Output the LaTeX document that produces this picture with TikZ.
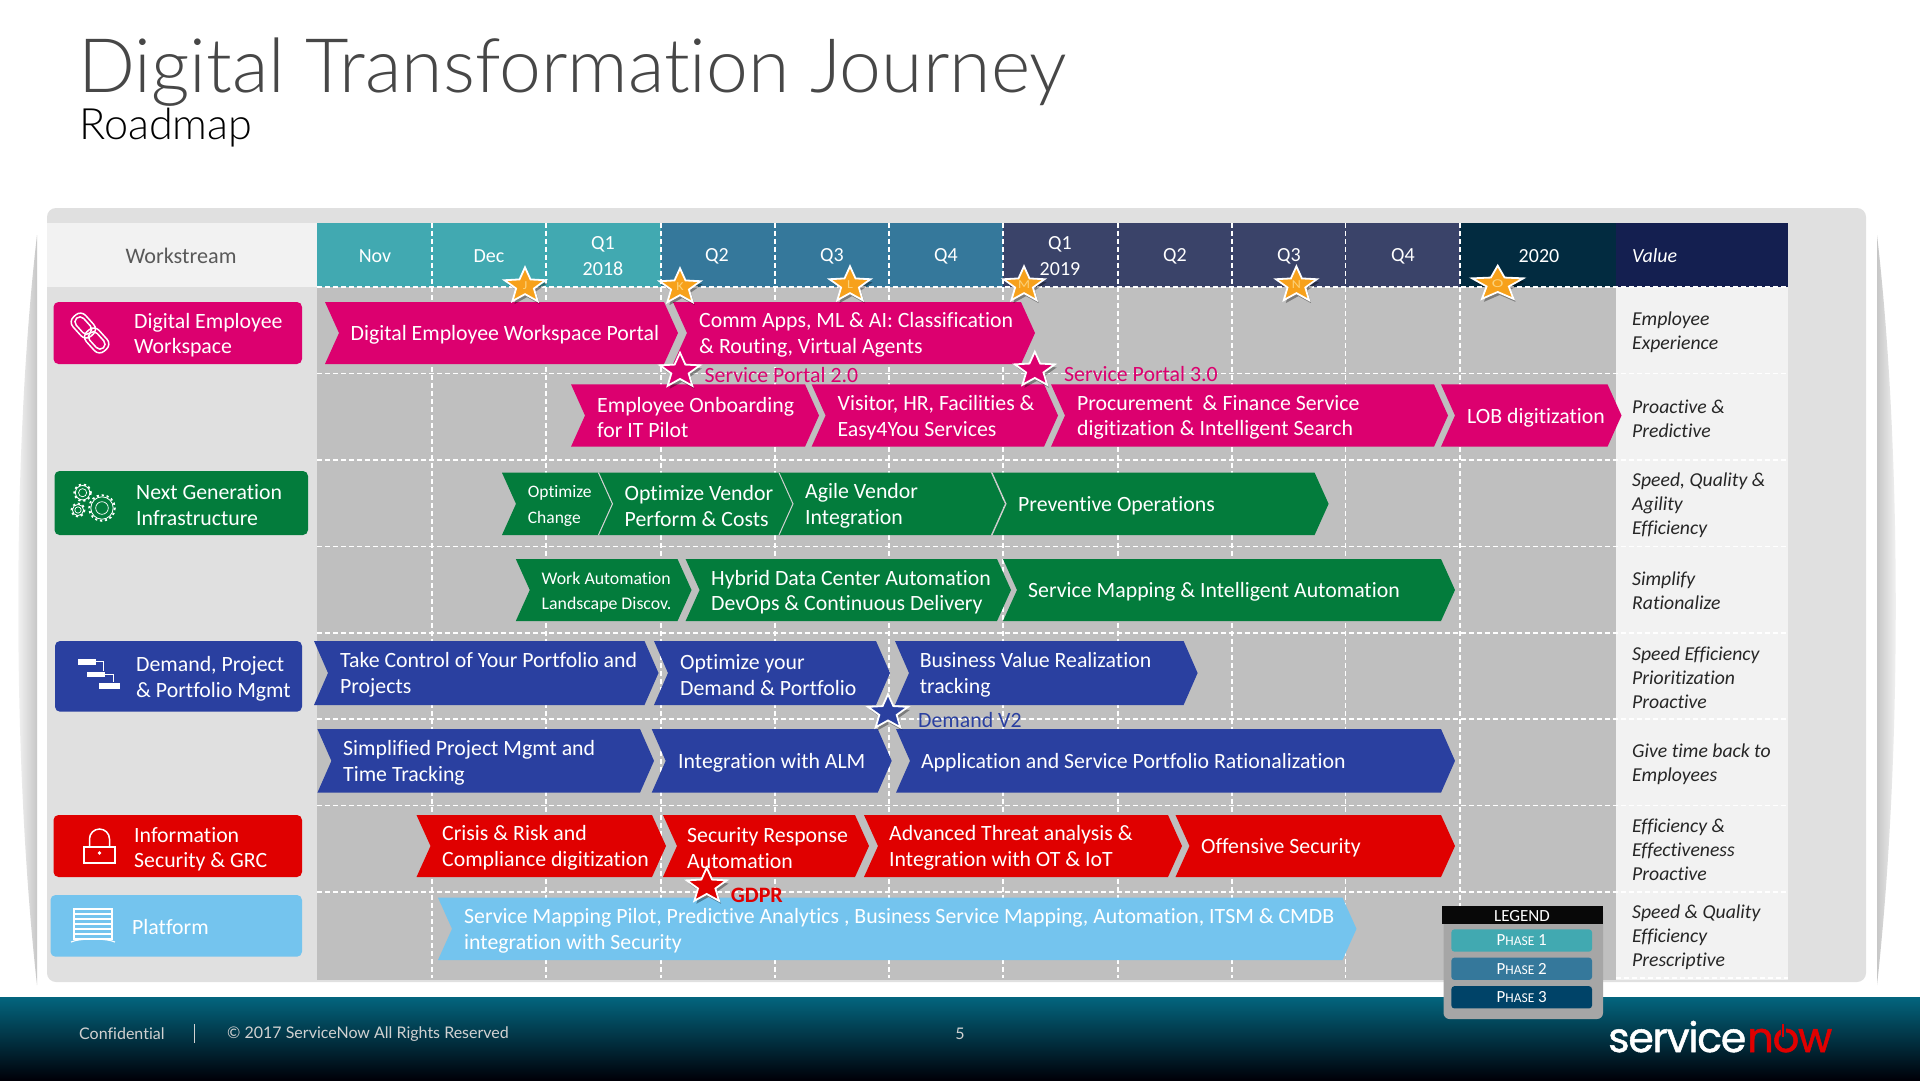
\documentclass[tikz,border=0pt]{standalone}
\usepackage{fontspec}
\usepackage{graphicx}
\usetikzlibrary{shapes.geometric,shadows}
\setmainfont{Carlito}[Ligatures=NoCommon]
\newfontfamily\titlefont{Lato Light}[Ligatures=NoCommon]
\newfontfamily\footfont{Lato}[Ligatures=NoCommon]
\newfontfamily\logofont{Poppins}[LetterSpace=-3,FakeBold=1.2]
\definecolor{pnl}{HTML}{E0E0E0}
\definecolor{grd}{HTML}{BFBFBF}
\definecolor{lite}{HTML}{F2F2F2}
\definecolor{ph1}{HTML}{41A9B1}
\definecolor{ph2}{HTML}{35789B}
\definecolor{ph3}{HTML}{3A4369}
\definecolor{ph4}{HTML}{022B40}
\definecolor{ph5}{HTML}{004368}
\definecolor{navy}{HTML}{141F50}
\definecolor{pink}{HTML}{DC006F}
\definecolor{grn}{HTML}{037C3C}
\definecolor{blu}{HTML}{2A40A0}
\definecolor{rd}{HTML}{E00000}
\definecolor{sky}{HTML}{74C4EE}
\definecolor{orng}{HTML}{F7A11B}
\definecolor{ltr}{HTML}{FCD27A}
\definecolor{ft1}{HTML}{03657E}
\definecolor{ft2}{HTML}{023C55}
\definecolor{ft3}{HTML}{000008}
\tikzset{
  fs/.style={font=\fontsize{#1}{25.5}\selectfont},
  hdr/.style={text=white,inner sep=0pt,align=center,fs=20},
  chevtxt/.style={text=white,anchor=west,inner sep=0pt,align=left,fs=21.8},
  wslabel/.style={text=white,anchor=west,inner sep=0pt,align=left,fs=21.8},
  valtxt/.style={text=black!85,anchor=west,inner sep=0pt,align=left,font=\fontsize{19.7}{24}\selectfont\itshape},
  griddash/.style={white,line width=1.5pt,dash pattern=on 5pt off 3pt},
  wsbox/.style={rounded corners=5pt},
  starbase/.style={star,star points=5,star point ratio=2.3,draw=white,line width=1.8pt,inner sep=0pt,minimum size=#1,yscale=.87,transform shape,drop shadow={shadow xshift=2pt,shadow yshift=-3pt,opacity=.35,fill=black}},
  mile/.style={starbase=43pt,fill=orng,text=ltr,font=\fontsize{14}{14}\selectfont},
  icon/.style={white,line width=1.5pt},
  phasebox/.style={rounded corners=3pt,minimum width=140.6pt,minimum height=22.3pt,inner sep=0pt,text=white,font=\fontsize{17}{17}\selectfont},
  seam/.style={grd!70!white,line width=1pt},
}
\newcommand{\pcaps}[1]{P{\fontsize{13.5}{13.5}\selectfont HASE} #1}
\newcommand{\chev}[9][21.8]{%
  \fill[#3] ({#4},{#6}) -- ({#5-14},{#6}) -- ({#5},{(#6+#7)/2}) -- ({#5-14},{#7}) -- ({#4},{#7}) -- ({#4+14},{(#6+#7)/2}) -- cycle;
  \node[chevtxt,fs=#1] (#2) at ({#8},{(#6+#7)/2+2}) {#9};
}
\newcommand{\seamline}[3]{\draw[seam] ({#1},{#2}) -- ({#1+14},{(#2+#3)/2}) -- ({#1},{#3});}
\newcommand{\gearicon}[3]{%
  \draw[icon,line width=.7pt] (#1,#2) circle ({#3*0.45});
  \draw[icon,line width=.8pt] (#1,#2) circle ({#3*0.8});
  \draw[white,line width=1.8pt,dash pattern=on 2.2pt off 2.8pt] (#1,#2) circle ({#3*0.92});
}
\begin{document}
\begin{tikzpicture}[x=1pt,y=-1pt]
\useasboundingbox (0,0) rectangle (1920,1080);
\fill[white] (0,0) rectangle (1920,1080);
% title
\node[anchor=base west,inner sep=0pt,text=black!72,font=\fontsize{75.1}{80}\selectfont\titlefont] (title) at (78,92) {Digital Transformation Journey};
\node[anchor=base west,inner sep=0pt,text=black,font=\fontsize{43.2}{44}\selectfont\titlefont] (subtitle) at (79,139) {Roadmap};
% side shadows
\shade[left color=white,right color=black!22] (37,235) .. controls (12,450) and (12,760) .. (37,985) -- cycle;
\shade[left color=black!22,right color=white] (1877,235) .. controls (1902,450) and (1902,760) .. (1877,985) -- cycle;
% panel
\fill[pnl,rounded corners=9pt] (47,208) rectangle (1866,982);
\fill[lite] (47,222.7) rectangle (317,287);
\node[text=black!65,inner sep=0pt,fs=22.2] (ws) at (181,256) {Workstream};
\fill[grd] (317,287) rectangle (1616,980);
\fill[lite] (1616,287) rectangle (1788,980);
% header
\fill[ph1] (317,222.7) rectangle (661,287);
\fill[ph2] (661,222.7) rectangle (1003,287);
\fill[ph3] (1003,222.7) rectangle (1460,287);
\fill[ph4] (1460,222.7) rectangle (1616,287);
\fill[navy] (1616,222.7) rectangle (1788,287);
\node[hdr] (h1) at (375,256) {Nov};
\node[hdr] (h2) at (489,256) {Dec};
\node[hdr] (h3) at (603,256) {Q1\\2018};
\node[hdr] (h4) at (717,256) {Q2};
\node[hdr] (h5) at (832,256) {Q3};
\node[hdr] (h6) at (946,256) {Q4};
\node[hdr] (h7) at (1060,256) {Q1\\2019};
\node[hdr] (h8) at (1175,256) {Q2};
\node[hdr] (h9) at (1289,256) {Q3};
\node[hdr] (h10) at (1403,256) {Q4};
\node[hdr] (h11) at (1539,256) {2020};
\node[text=white,anchor=west,inner sep=0pt,font=\fontsize{20}{24}\selectfont\itshape] (val) at (1632,256) {Value};
% dashed grid
\foreach \gx in {432,546,661,775,889,1003,1118,1232,1345.5,1460}{\draw[griddash] (\gx,222.7) -- (\gx,978);}
\foreach \gy in {287,373.7,460,546.7,633,719,805.7,892}{\draw[griddash] (317,\gy) -- (1788,\gy);}
\draw[griddash] (1616,978) -- (1788,978);
% value column
\node[valtxt] (v1) at (1632,332.5) {Employee\\Experience};
\node[valtxt] (v2) at (1632,418.5) {Proactive \&\\Predictive};
\node[valtxt] (v3) at (1632,505) {Speed, Quality \&\\Agility\\Efficiency};
\node[valtxt] (v4) at (1632,591) {Simplify\\Rationalize};
\node[valtxt] (v5) at (1632,677.5) {Speed Efficiency\\Prioritization\\Proactive};
\node[valtxt] (v6) at (1632,764) {Give time back to\\Employees};
\node[valtxt] (v7) at (1632,850) {Efficiency \&\\Effectiveness\\Proactive};
\node[valtxt] (v8) at (1632,937) {Speed \& Quality\\Efficiency\\Prescriptive};
% workstream boxes
\fill[pink,wsbox] (53.5,302) rectangle (302,364);
\node[wslabel] (w1) at (134,335) {Digital Employee\\Workspace};
\fill[grn,wsbox] (54.5,471) rectangle (308,535);
\node[wslabel] (w2) at (136,505) {Next Generation\\Infrastructure};
\fill[blu,wsbox] (55,641) rectangle (302,711.7);
\node[wslabel] (w3) at (136,679) {Demand, Project\\\& Portfolio Mgmt};
\fill[rd,wsbox] (53.5,815) rectangle (302,877);
\node[wslabel] (w4) at (134,849) {Information\\Security \& GRC};
\fill[sky,wsbox] (50.5,895) rectangle (302,956.7);
\node[wslabel] (w5) at (132,927) {Platform};
% icons: chain
\begin{scope}[shift={(90,333)},rotate=-48]
\draw[icon,rounded corners=7pt] (-23,-8.5) rectangle (3,8.5);
\draw[icon,rounded corners=5pt] (-20,-5) rectangle (0,5);
\draw[icon,rounded corners=7pt] (-3,-8.5) rectangle (23,8.5);
\draw[icon,rounded corners=5pt] (0,-5) rectangle (20,5);
\end{scope}
% icons: gears
\gearicon{82.6}{492.7}{9}
\gearicon{78}{510}{7}
\gearicon{102}{508}{14}
% icons: gantt
\fill[white] (78,659) rectangle (96,665);
\fill[white] (87,672) rectangle (105,677);
\fill[white] (99,683) rectangle (120,689);
\draw[white,line width=1pt] (96,661) -- (103.5,661) -- (103.5,671);
\draw[white,line width=1pt] (105,674) -- (113,674) -- (113,682);
% icons: lock
\draw[icon] (84,847) rectangle (115,863);
\draw[icon] (89.5,847) -- (89.5,839) arc[start angle=180,end angle=360,radius=10] -- (109.5,847);
\fill[white] (99.5,853) circle (1.8);
% icons: platform
\draw[icon,line width=1.1pt] (74,909) rectangle (112,939);
\foreach \ly in {914,919,924,929,934}{\draw[icon,line width=1.1pt] (74,\ly) -- (112,\ly);}
\draw[icon,line width=1.1pt] (71,942) .. controls (80,938) and (106,938) .. (115,942);
% row 1
\chev{c11}{pink}{325}{678}{302}{364}{350.5}{Digital Employee Workspace Portal}
\chev{c12}{pink}{673}{1035}{302}{364}{699}{Comm Apps, ML \& AI: Classification\\\& Routing, Virtual Agents}
% row 2
\chev{c21}{pink}{571}{819}{384.3}{446.7}{597}{Employee Onboarding\\for IT Pilot}
\chev{c22}{pink}{811.6}{1058}{384.3}{446.7}{837.5}{Visitor, HR, Facilities \&\\Easy4You Services}
\chev{c23}{pink}{1051}{1448}{384.3}{446.7}{1077}{Procurement\ \ \& Finance Service\\digitization \& Intelligent Search}
\chev{c24}{pink}{1441}{1621.5}{384.3}{446.7}{1467}{LOB digitization}
% row 3
\chev[17.5]{c31}{grn}{502}{612}{472.7}{535}{527.7}{Optimize\\Change}
\chev{c32}{grn}{598.5}{794.8}{472.7}{535}{624.5}{Optimize Vendor\\Perform \& Costs}
\chev{c33}{grn}{779}{1004.8}{472.7}{535}{805}{Agile Vendor\\Integration}
\chev{c34}{grn}{992}{1328.6}{472.7}{535}{1018}{Preventive Operations}
\seamline{598.5}{472.7}{535}
\seamline{779}{472.7}{535}
\seamline{992}{472.7}{535}
% row 4
\chev[17.8]{c41}{grn}{515.8}{691.5}{559}{621}{541.5}{Work Automation\\Landscape Discov.}
\chev{c42}{grn}{685.6}{1011}{559}{621}{711}{Hybrid Data Center Automation\\DevOps \& Continuous Delivery}
\chev{c43}{grn}{1003}{1455}{559}{621}{1028}{Service Mapping \& Intelligent Automation}
% row 5
\chev{c51}{blu}{314}{658.5}{641}{705}{340}{Take Control of Your Portfolio and\\Projects}
\chev{c52}{blu}{654}{890}{641}{705}{680}{Optimize your\\Demand \& Portfolio}
\chev{c53}{blu}{895}{1197.6}{641}{705}{919.6}{Business Value Realization\\tracking}
% row 6
\chev{c61}{blu}{317.4}{654}{729}{792.7}{343}{Simplified Project Mgmt and\\Time Tracking}
\chev{c62}{blu}{651.7}{891.7}{729}{792.7}{678}{Integration with ALM}
\chev{c63}{blu}{896}{1455}{729}{792.7}{920.8}{Application and Service Portfolio Rationalization}
% row 7
\chev{c71}{rd}{416.5}{666}{815}{877}{442}{Crisis \& Risk and\\Compliance digitization}
\chev{c72}{rd}{663}{869}{815}{877}{687}{Security Response\\Automation}
\chev{c73}{rd}{864}{1182}{815}{877}{889}{Advanced Threat analysis \&\\Integration with OT \& IoT}
\chev{c74}{rd}{1175.5}{1455}{815}{877}{1201}{Offensive Security}
% row 8
\chev{c81}{sky}{438}{1356.5}{897.7}{960}{464}{Service Mapping Pilot, Predictive Analytics , Business Service Mapping, Automation, ITSM \& CMDB\\integration with Security}
% milestone stars
\node[mile] (sj) at (525,286) {J};
\node[mile] (sk) at (680,287) {K};
\node[mile] (sl) at (850,285) {L};
\node[mile] (sm) at (1024,285) {M};
\node[mile] (sn) at (1296.4,285) {N};
\node[mile,xscale=1.25,yscale=.98] (so) at (1497.7,284) {O};
\node[starbase=42pt,fill=pink] (sp2) at (680,371) {};
\node[starbase=42pt,fill=pink] (sp3) at (1034.8,370) {};
\node[starbase=42pt,fill=blu] (sd2) at (888,712.5) {};
\node[starbase=42pt,fill=rd] (sgd) at (706.7,886) {};
\node[text=pink,anchor=west,inner sep=0pt,fs=21.8] (lsp2) at (704.5,375) {Service Portal 2.0};
\node[text=pink,anchor=west,inner sep=0pt,fs=21.8] (lsp3) at (1064,374) {Service Portal 3.0};
\node[text=blu,anchor=west,inner sep=0pt,fs=21.8] (ldv) at (918,720) {Demand V2};
\node[text=rd,anchor=west,inner sep=0pt,font=\fontsize{22}{24}\selectfont\bfseries] (lgd) at (730.7,895) {GDPR};
% footer
\shade[top color=ft1,middle color=ft2,bottom color=ft3] (0,997.3) rectangle (1920,1080);
\node[text=black!18,anchor=west,inner sep=0pt,font=\fontsize{16}{18}\selectfont\footfont] (f1) at (79,1034) {Confidential};
\node[text=black!18,anchor=west,inner sep=0pt,font=\fontsize{16}{18}\selectfont\footfont] (f2) at (227,1034) {© 2017 ServiceNow All Rights Reserved};
\node[text=black!18,inner sep=0pt,font=\fontsize{16}{18}\selectfont\footfont] (f3) at (960,1034) {5};
\coordinate (dv1) at (194.6,1024);
\coordinate (dv2) at (194.6,1043);
\draw[black!18,line width=1pt] (dv1) -- (dv2);
% logo
\node[anchor=base west,inner sep=0pt,font=\logofont] (logo1) at (1608,1052) {\resizebox{138pt}{!}{\textcolor{white}{service}}};
\node[anchor=base west,inner sep=0pt,font=\logofont] (logo2) at (1747,1052) {\resizebox{85pt}{!}{\textcolor{rd}{now}}};
\draw[ft2,line width=5pt] (1783,1024) -- (1783,1036);
\draw[rd,line width=2.6pt] (1783,1024) -- (1783,1037);
% legend
\fill[black!35,rounded corners=6pt] (1443.5,906) rectangle (1603,1019);
\fill[black!97] (1441.6,906) rectangle (1602.5,924);
\node[text=white,inner sep=0pt,font=\fontsize{17}{17}\selectfont] (lg) at (1522,916) {LEGEND};
\node[phasebox,fill=ph1] (p1) at (1521.7,940.5) {\pcaps{1}};
\node[phasebox,fill=ph2] (p2) at (1521.7,968.8) {\pcaps{2}};
\node[phasebox,fill=ph5] (p3) at (1521.7,997.3) {\pcaps{3}};
\end{tikzpicture}
\end{document}
